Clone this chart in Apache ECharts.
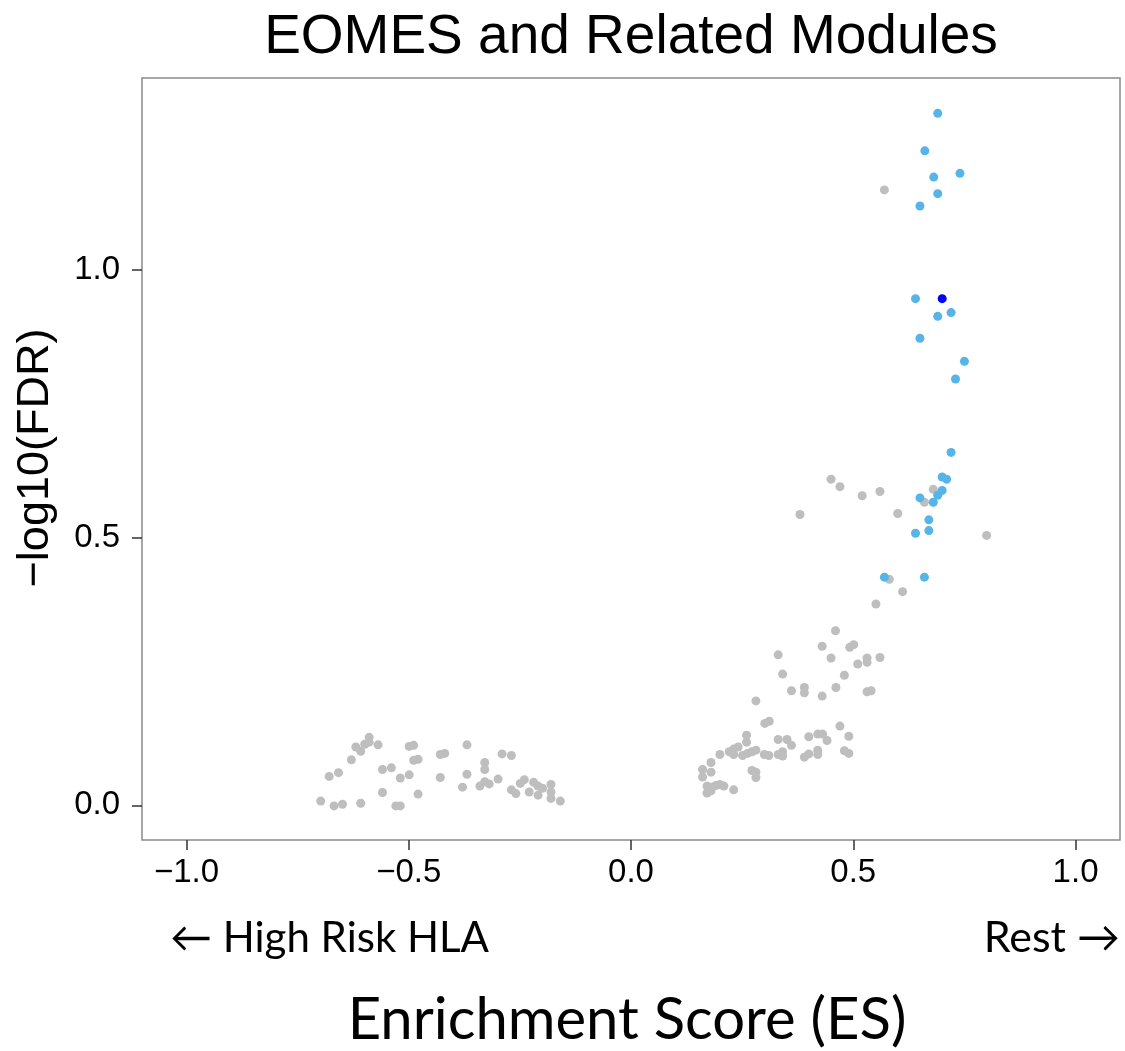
<!DOCTYPE html>
<html>
<head>
<meta charset="utf-8">
<script src="https://cdn.jsdelivr.net/npm/echarts@6/dist/echarts.min.js"></script>
<style>html,body{margin:0;padding:0;background:#fff}#c{width:1125px;height:1051px}</style>
</head>
<body>
<div id="c"></div>
<script>
// Non-significant modules (gray)
const grayES = [0.570,0.450,0.470,0.520,0.560,0.680,0.660,0.380,0.600,0.800,0.581,0.611,0.551,0.460,
0.430,0.492,0.501,0.331,0.450,0.510,0.531,0.531,0.560,0.341,0.480,0.361,0.390,0.390,0.430,0.461,0.531,0.540,
0.281,0.301,0.311,0.470,0.260,0.260,0.331,0.351,0.361,0.400,0.420,0.431,0.441,0.490,0.200,0.221,0.231,0.241,
0.231,0.251,0.262,0.272,0.281,0.300,0.310,0.331,0.341,0.341,0.390,0.400,0.420,0.420,0.480,0.490,0.180,0.180,
0.161,0.161,0.272,0.281,0.281,0.171,0.180,0.191,0.200,0.209,0.171,0.180,0.231,
-0.698,-0.668,-0.649,-0.608,-0.559,-0.529,-0.519,-0.479,-0.679,-0.658,-0.629,-0.619,-0.608,-0.599,-0.589,-0.589,
-0.569,-0.559,-0.539,-0.519,-0.499,-0.499,-0.489,-0.489,-0.479,-0.429,-0.419,-0.429,-0.369,-0.379,-0.369,-0.329,
-0.329,-0.340,-0.329,-0.319,-0.299,-0.290,-0.269,-0.269,-0.259,-0.249,-0.240,-0.229,-0.219,-0.209,-0.209,-0.199,
-0.180,-0.180,-0.180,-0.159];
const grayFDR = [1.149,0.609,0.595,0.578,0.586,0.590,0.566,0.543,0.545,0.504,0.422,0.399,0.376,0.326,
0.297,0.295,0.300,0.281,0.275,0.264,0.275,0.267,0.276,0.245,0.243,0.214,0.220,0.210,0.204,0.220,0.212,0.214,
0.195,0.153,0.157,0.148,0.131,0.118,0.123,0.123,0.112,0.128,0.133,0.133,0.121,0.129,0.095,0.100,0.105,0.109,
0.095,0.093,0.097,0.100,0.103,0.095,0.093,0.095,0.100,0.092,0.090,0.096,0.103,0.095,0.102,0.097,0.080,0.062,
0.067,0.053,0.065,0.062,0.052,0.036,0.034,0.037,0.039,0.036,0.023,0.027,0.029,
0.008,-0.001,0.002,0.004,0.024,-0.001,-0.001,0.021,0.054,0.061,0.085,0.109,0.101,0.114,0.127,0.118,
0.113,0.067,0.070,0.051,0.057,0.110,0.112,0.084,0.086,0.095,0.097,0.052,0.113,0.034,0.058,0.080,
0.067,0.036,0.044,0.040,0.049,0.096,0.093,0.029,0.022,0.041,0.048,0.025,0.043,0.036,0.019,0.032,
0.039,0.025,0.013,0.008];
// Significant modules (light blue)
const blueES = [0.690,0.661,0.681,0.740,0.690,0.650,0.640,0.720,0.690,0.650,0.750,0.730,0.720,0.700,0.710,
0.700,0.690,0.650,0.680,0.670,0.670,0.640,0.570,0.660];
const blueFDR = [1.292,1.222,1.173,1.180,1.142,1.119,0.946,0.920,0.913,0.872,0.829,0.796,0.659,0.613,0.609,
0.588,0.579,0.574,0.566,0.533,0.513,0.508,0.426,0.426];
// EOMES module (dark blue)
const eomesES = [0.700];
const eomesFDR = [0.946];

const xTicks = [-1.0, -0.5, 0.0, 0.5, 1.0];
const yTicks = [0.0, 0.5, 1.0];

function zip(a, b) { return a.map((v, i) => [v, b[i]]); }

const chart = echarts.init(document.getElementById('c'), null, {renderer: 'canvas'});
const fmtX = v => (v < 0 ? '\u2212' : '') + Math.abs(v).toFixed(1);
const fmtY = v => v.toFixed(1);
const helv = '"Liberation Sans", Arial, Helvetica, sans-serif';
const cal = 'Lato, "Open Sans", sans-serif';

chart.setOption({
  animation: false,
  backgroundColor: '#fff',
  grid: {left: 142, right: 5, top: 78, bottom: 211, show: true, borderColor: '#8a8a8a', borderWidth: 1.5, backgroundColor: '#fff'},
  xAxis: {
    type: 'value', min: -1.1, max: 1.1,
    axisLine: {show: false, onZero: false},
    splitLine: {show: false},
    axisTick: {show: true, length: 10, inside: false, customValues: xTicks, lineStyle: {color: '#333', width: 1.5}},
    axisLabel: {customValues: xTicks, formatter: fmtX, color: '#000', fontSize: 33, fontFamily: helv, margin: 16}
  },
  yAxis: {
    type: 'value', min: -0.0647, max: 1.358,
    axisLine: {show: false, onZero: false},
    splitLine: {show: false},
    axisTick: {show: true, length: 10, inside: false, customValues: yTicks, lineStyle: {color: '#333', width: 1.5}},
    axisLabel: {customValues: yTicks, formatter: fmtY, color: '#000', fontSize: 33, fontFamily: helv, margin: 22}
  },
  series: [
    {type: 'scatter', data: zip(grayES, grayFDR), symbolSize: 9, itemStyle: {color: '#bebebe', opacity: 1}, z: 2},
    {type: 'scatter', data: zip(blueES, blueFDR), symbolSize: 9, itemStyle: {color: '#56b4e9', opacity: 1}, z: 3},
    {type: 'scatter', data: zip(eomesES, eomesFDR), symbolSize: 9, itemStyle: {color: '#0000ff', opacity: 1}, z: 4}
  ],
  graphic: [
    {type: 'text', x: 631, y: 38, style: {text: 'EOMES and Related Modules', fontSize: 55, fontFamily: helv, fill: '#000', align: 'center', verticalAlign: 'middle'}},
    {type: 'text', x: 36, y: 458, rotation: Math.PI / 2, style: {text: '\u2212log10(FDR)', fontSize: 45, fontFamily: helv, fill: '#000', align: 'center', verticalAlign: 'middle'}},
    {type: 'text', x: 170, y: 938, style: {text: '\u2190 High Risk HLA', fontSize: 42, fontFamily: cal, fill: '#000', align: 'left', verticalAlign: 'middle'}},
    {type: 'text', x: 1120, y: 938, style: {text: 'Rest \u2192', fontSize: 43, fontFamily: cal, fill: '#000', align: 'right', verticalAlign: 'middle'}},
    {type: 'text', x: 627, y: 1020, style: {text: 'Enrichment Score (ES)', fontSize: 58, fontFamily: cal, fill: '#000', align: 'center', verticalAlign: 'middle'}}
  ]
});
</script>
</body>
</html>
